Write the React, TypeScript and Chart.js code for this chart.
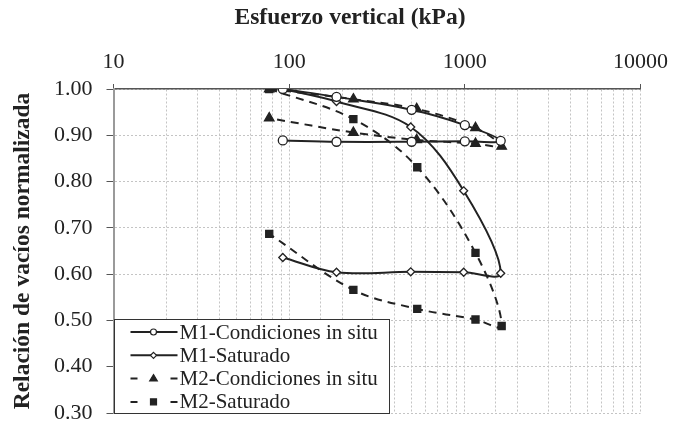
import React, { useEffect, useRef } from "react";
import { Chart, registerables } from "chart.js";

Chart.register(...registerables);

// ---- data ----
const seriesNames = [
  "M1-Condiciones in situ",
  "M1-Saturado",
  "M2-Condiciones in situ",
  "M2-Saturado",
];
const m1InSituX = [92, 186, 498, 1000, 1600, 1000, 498, 186, 92];
const m1InSituY = [1.0, 0.983, 0.955, 0.922, 0.888, 0.887, 0.886, 0.886, 0.889];
const m1SatX = [92, 186, 492, 985, 1600, 985, 492, 186, 92];
const m1SatY = [1.0, 0.973, 0.918, 0.78, 0.602, 0.604, 0.605, 0.604, 0.636];
const m2InSituX = [77, 232, 532, 1150, 1620, 1150, 532, 232, 77];
const m2InSituY = [1.0, 0.978, 0.957, 0.916, 0.876, 0.882, 0.89, 0.906, 0.937];
const m2SatX = [77, 232, 536, 1150, 1620, 1150, 536, 232, 77];
const m2SatY = [1.0, 0.935, 0.831, 0.646, 0.488, 0.502, 0.525, 0.566, 0.687];

const xTitle = "Esfuerzo vertical (kPa)";
const yTitle = "Relación de vacíos normalizada";
const xMin = 10;
const xMax = 10000;
const yMin = 0.3;
const yMax = 1.0;
const yStep = 0.1;

const SERIF = '"Liberation Serif", "Times New Roman", serif';
const INK = "#222";

const toPts = (xs: number[], ys: number[]) => xs.map((x, i) => ({ x, y: ys[i] }));
const isPow10 = (v: number) => Math.abs(Math.log10(v) - Math.round(Math.log10(v))) < 1e-9;

function drawMarker(ctx: CanvasRenderingContext2D, style: string, x: number, y: number, r: number, fill: string, stroke: string) {
  ctx.save();
  ctx.setLineDash([]);
  ctx.fillStyle = fill;
  ctx.strokeStyle = stroke;
  ctx.lineWidth = 1.2;
  ctx.beginPath();
  if (style === "circle") {
    ctx.arc(x, y, r, 0, Math.PI * 2);
  } else if (style === "rectRot") {
    ctx.moveTo(x, y - r);
    ctx.lineTo(x + r, y);
    ctx.lineTo(x, y + r);
    ctx.lineTo(x - r, y);
    ctx.closePath();
  } else if (style === "triangle") {
    ctx.moveTo(x, y - r);
    ctx.lineTo(x + r * 0.95, y + r * 0.6);
    ctx.lineTo(x - r * 0.95, y + r * 0.6);
    ctx.closePath();
  } else {
    ctx.rect(x - r, y - r, 2 * r, 2 * r);
  }
  ctx.fill();
  ctx.stroke();
  ctx.restore();
}

const legendPlugin = {
  id: "boxLegend",
  afterDatasetsDraw(chart: any) {
    const ctx: CanvasRenderingContext2D = chart.ctx;
    const area = chart.chartArea;
    const x0 = Math.round(area.left) + 0.5;
    const y0 = Math.round(area.bottom) - 93.5;
    const w = 275;
    const h = 94;
    ctx.save();
    ctx.fillStyle = "#fff";
    ctx.fillRect(x0, y0, w, h);
    ctx.strokeStyle = "#333";
    ctx.lineWidth = 1;
    ctx.strokeRect(x0, y0, w, h);
    const legendMarks = [
      { style: "circle", r: 3, fill: "#fff" },
      { style: "rectRot", r: 3, fill: "#fff" },
      { style: "triangle", r: 4, fill: INK },
      { style: "square", r: 3, fill: INK },
    ];
    chart.data.datasets.forEach((ds: any, i: number) => {
      const cy = y0 + 12.5 + i * 23.3;
      const lx1 = x0 + 16;
      const lx2 = x0 + 63;
      const mx = x0 + 39;
      ctx.strokeStyle = INK;
      ctx.lineWidth = 2;
      ctx.setLineDash([]);
      ctx.beginPath();
      if (ds.borderDash && ds.borderDash.length) {
        ctx.moveTo(lx1, cy);
        ctx.lineTo(lx1 + 7, cy);
        ctx.moveTo(lx2 - 7, cy);
        ctx.lineTo(lx2, cy);
      } else {
        ctx.moveTo(lx1, cy);
        ctx.lineTo(lx2, cy);
      }
      ctx.stroke();
      const m = legendMarks[i];
      drawMarker(ctx, m.style, mx, cy, m.r, m.fill, INK);
      ctx.fillStyle = INK;
      ctx.font = `21px ${SERIF}`;
      ctx.textAlign = "left";
      ctx.textBaseline = "middle";
      ctx.fillText(ds.label, x0 + 65, cy + 1);
    });
    ctx.restore();
  },
};

const topTitlePlugin = {
  id: "topTitle",
  afterDraw(chart: any) {
    const ctx: CanvasRenderingContext2D = chart.ctx;
    ctx.save();
    ctx.fillStyle = INK;
    ctx.font = `bold 23.5px ${SERIF}`;
    ctx.textAlign = "center";
    ctx.textBaseline = "middle";
    ctx.fillText(xTitle, 350, 18);
    ctx.restore();
  },
};

export default function App() {
  const canvasRef = useRef<HTMLCanvasElement | null>(null);

  useEffect(() => {
    const canvas = canvasRef.current;
    if (!canvas) return;
    const lineCommon = {
      borderColor: INK,
      borderWidth: 2,
      tension: 0.35,
      pointBorderColor: INK,
      pointBorderWidth: 1.3,
      showLine: true,
      fill: false,
    };
    const chart = new Chart(canvas, {
      type: "scatter",
      data: {
        datasets: [
          {
            ...lineCommon,
            label: seriesNames[0],
            data: toPts(m1InSituX, m1InSituY),
            pointStyle: "circle",
            pointRadius: 4.5,
            pointBackgroundColor: "#fff",
          },
          {
            ...lineCommon,
            label: seriesNames[1],
            data: toPts(m1SatX, m1SatY),
            pointStyle: "rectRot",
            pointRadius: 4,
            pointBackgroundColor: "#fff",
          },
          {
            ...lineCommon,
            label: seriesNames[2],
            data: toPts(m2InSituX, m2InSituY),
            borderDash: [8, 6],
            pointStyle: "triangle",
            pointRadius: 5.5,
            pointBackgroundColor: INK,
          },
          {
            ...lineCommon,
            label: seriesNames[3],
            data: toPts(m2SatX, m2SatY),
            borderDash: [8, 6],
            pointStyle: "rect",
            pointRadius: 5,
            pointBackgroundColor: INK,
          },
        ],
      },
      options: {
        responsive: false,
        animation: false,
        devicePixelRatio: 1,
        layout: { padding: { left: 0, right: 41.5, top: 0, bottom: 11 } },
        plugins: {
          legend: { display: false },
          tooltip: { enabled: false },
          title: { display: false },
        },
        scales: {
          x: {
            type: "logarithmic",
            position: "top",
            min: xMin,
            max: xMax,
            afterFit: (s: any) => {
              s.height = 89;
              s.paddingLeft = 0;
              s.paddingRight = 0;
            },
            border: { display: true, color: "#555", width: 1.5, dash: [2, 2] },
            grid: {
              color: "#c4c4c4",
              lineWidth: 1,
              tickLength: 5,
              tickColor: (c: any) => (c.tick && isPow10(c.tick.value) ? "#555" : "rgba(0,0,0,0)"),
              tickBorderDash: [],
            },
            ticks: {
              autoSkip: false,
              maxRotation: 0,
              minRotation: 0,
              padding: 9,
              color: INK,
              font: { family: SERIF, size: 22 },
              callback: (v: any) => (isPow10(Number(v)) ? String(Math.round(Number(v))) : ""),
            },
          },
          y: {
            type: "linear",
            position: "left",
            min: yMin,
            max: yMax,
            afterFit: (s: any) => {
              s.width = 113.5;
              s.paddingTop = 0;
              s.paddingBottom = 0;
            },
            border: { display: true, color: "#9a9a9a", width: 2, dash: [2, 2] },
            grid: {
              color: "#c4c4c4",
              lineWidth: 1,
              tickLength: 7,
              tickColor: "#555",
              tickBorderDash: [],
            },
            title: {
              display: true,
              text: yTitle,
              color: INK,
              font: { family: SERIF, size: 23.5, weight: "bold" },
              padding: { top: 9, bottom: 0 },
            },
            ticks: {
              stepSize: yStep,
              padding: 14,
              color: INK,
              font: { family: SERIF, size: 22 },
              callback: (v: any) => Number(v).toFixed(2),
            },
          },
        },
      },
      plugins: [legendPlugin, topTitlePlugin],
    } as any);
    return () => chart.destroy();
  }, []);

  return (
    <div style={{ position: "absolute", left: 0, top: 0, width: 682, height: 424, background: "#fff" }}>
      <canvas ref={canvasRef} width={682} height={424} style={{ display: "block", width: 682, height: 424 }} />
    </div>
  );
}
